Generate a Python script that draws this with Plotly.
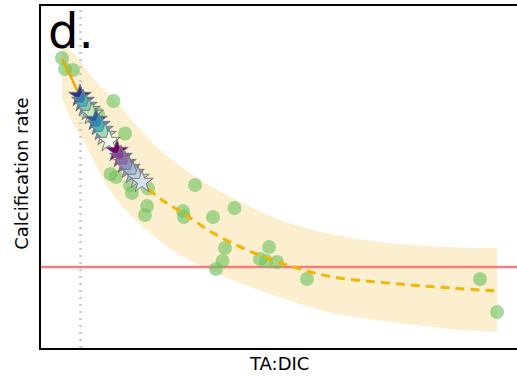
import plotly.graph_objects as go

# Observations: TA:DIC ratio vs calcification rate
obs_ratio = [1.021, 1.024, 1.032, 1.0725, 1.057, 1.084, 1.0695, 1.075, 1.089, 1.091,
             1.107, 1.106, 1.104, 1.154, 1.142, 1.143, 1.172, 1.1935, 1.184, 1.1815,
             1.175, 1.228, 1.219, 1.225, 1.236, 1.266, 1.439, 1.456]
obs_rate = [2.09, 1.98, 1.97, 1.66, 1.53, 1.335, 0.93, 0.90, 0.815, 0.74,
            0.785, 0.61, 0.52, 0.82, 0.56, 0.50, 0.50, 0.59, 0.19, 0.06,
            -0.02, 0.20, 0.08, 0.06, 0.05, -0.12, -0.12, -0.45]

# Fitted response: within the scenario range (solid) and extrapolated (dashed)
fit_ratio_in = [1.021, 1.029, 1.039, 1.054, 1.069, 1.084, 1.101, 1.107]
fit_rate_in = [2.08, 1.92, 1.71, 1.46, 1.24, 1.04, 0.85, 0.78]
fit_ratio_out = [1.107, 1.124, 1.142, 1.172, 1.206, 1.249, 1.292, 1.359, 1.409, 1.456]
fit_rate_out = [0.78, 0.65, 0.54, 0.34, 0.17, 0.01, -0.10, -0.17, -0.21, -0.24]

# Prediction interval edges
band_up_ratio = [1.021, 1.032, 1.049, 1.059, 1.072, 1.082, 1.099, 1.116, 1.149, 1.182,
                 1.206, 1.229, 1.272, 1.339, 1.406, 1.456]
band_up_rate = [2.21, 2.14, 1.93, 1.81, 1.68, 1.57, 1.38, 1.20, 0.94, 0.74,
                0.62, 0.51, 0.37, 0.25, 0.20, 0.19]
band_lo_ratio = [1.021, 1.029, 1.042, 1.059, 1.076, 1.109, 1.142, 1.172, 1.189, 1.226,
                 1.292, 1.359, 1.409, 1.456]
band_lo_rate = [1.70, 1.49, 1.27, 0.94, 0.67, 0.34, 0.10, -0.04, -0.12, -0.26,
                -0.46, -0.56, -0.62, -0.65]

# Scenario projections (two scenario families)
scen_a_ratio = [1.039, 1.042, 1.045, 1.048, 1.051, 1.055, 1.058, 1.061, 1.064, 1.068]
scen_a_rate = [1.71, 1.66, 1.61, 1.57, 1.53, 1.47, 1.42, 1.37, 1.32, 1.26]
scen_a_colors = ['#253494', '#2c7fb8', '#41b6c4', '#7fcdbb', '#c7e9b4',
                 '#225ea8', '#1d91c0', '#41b6c4', '#a1dab4', '#f7fcf0']
scen_b_ratio = [1.076, 1.080, 1.084, 1.088, 1.092, 1.097, 1.101]
scen_b_rate = [1.16, 1.10, 1.04, 0.99, 0.94, 0.89, 0.85]
scen_b_colors = ['#6e016b', '#88419d', '#8c6bb1', '#8c96c6', '#9ebcda', '#bfd3e6', '#d6e2ef']

present_ratio = 1.0395
zero_rate = 0.0

x_range = [1.0, 1.476]
y_range = [-0.81, 2.61]

fig = go.Figure()

# prediction band: lower edge, then upper edge filled down to it
fig.add_trace(go.Scatter(
    x=band_lo_ratio, y=band_lo_rate, mode='lines',
    line=dict(width=0, color='rgba(0,0,0,0)', shape='spline'),
    hoverinfo='skip', showlegend=False))
fig.add_trace(go.Scatter(
    x=band_up_ratio, y=band_up_rate, mode='lines', fill='tonexty',
    fillcolor='#fcefd0', line=dict(width=0, color='rgba(0,0,0,0)', shape='spline'),
    hoverinfo='skip', showlegend=False))

# zero-calcification line
fig.add_trace(go.Scatter(
    x=x_range, y=[zero_rate, zero_rate], mode='lines',
    line=dict(color='rgba(238,105,105,0.85)', width=2.5), showlegend=False))

# present-day ratio
fig.add_trace(go.Scatter(
    x=[present_ratio, present_ratio], y=y_range, mode='lines',
    line=dict(color='#c4c4cc', width=2.5, dash='2px,5px'), showlegend=False))

# observations
fig.add_trace(go.Scatter(
    x=obs_ratio, y=obs_rate, mode='markers',
    marker=dict(size=14, color='rgba(110,195,95,0.62)', line=dict(width=0)),
    showlegend=False))

# fitted curve
fig.add_trace(go.Scatter(
    x=fit_ratio_out, y=fit_rate_out, mode='lines',
    line=dict(color='#f5b400', width=3, dash='9px,6px', shape='spline'),
    showlegend=False))
fig.add_trace(go.Scatter(
    x=fit_ratio_in, y=fit_rate_in, mode='lines',
    line=dict(color='#f0a800', width=2.4, shape='spline'), showlegend=False))

# scenario stars
for xs, ys, cs in [(scen_a_ratio, scen_a_rate, scen_a_colors),
                   (scen_b_ratio, scen_b_rate, scen_b_colors)]:
    fig.add_trace(go.Scatter(
        x=xs, y=ys, mode='markers',
        marker=dict(symbol='star', size=17, color=cs,
                    line=dict(color='#7a7a7a', width=1)),
        showlegend=False))

font_family = 'DejaVu Sans'
fig.update_layout(
    width=517, height=378,
    margin=dict(l=41, r=0, t=6, b=30),
    paper_bgcolor='white', plot_bgcolor='white',
    font=dict(family=font_family, color='black'),
    xaxis=dict(range=x_range, showgrid=False, zeroline=False, showticklabels=False,
               ticks='', showline=True, linecolor='black', linewidth=1.5, mirror=True),
    yaxis=dict(range=y_range, showgrid=False, zeroline=False, showticklabels=False,
               ticks='', showline=True, linecolor='black', linewidth=1.5, mirror=False),
    annotations=[
        dict(text='d.', xref='paper', yref='paper', x=0.01, y=1.015,
             xanchor='left', yanchor='top', showarrow=False,
             font=dict(size=48, family=font_family, color='black')),
        dict(text='TA:DIC', xref='paper', yref='paper', x=0.5, y=-0.044,
             xanchor='center', yanchor='middle', showarrow=False,
             font=dict(size=18, family=font_family, color='black')),
        dict(text='Calcification rate', xref='paper', yref='paper', x=-0.04, y=0.512,
             xanchor='center', yanchor='middle', textangle=-90, showarrow=False,
             font=dict(size=18, family=font_family, color='black')),
    ],
)

fig.write_html('out.html')
